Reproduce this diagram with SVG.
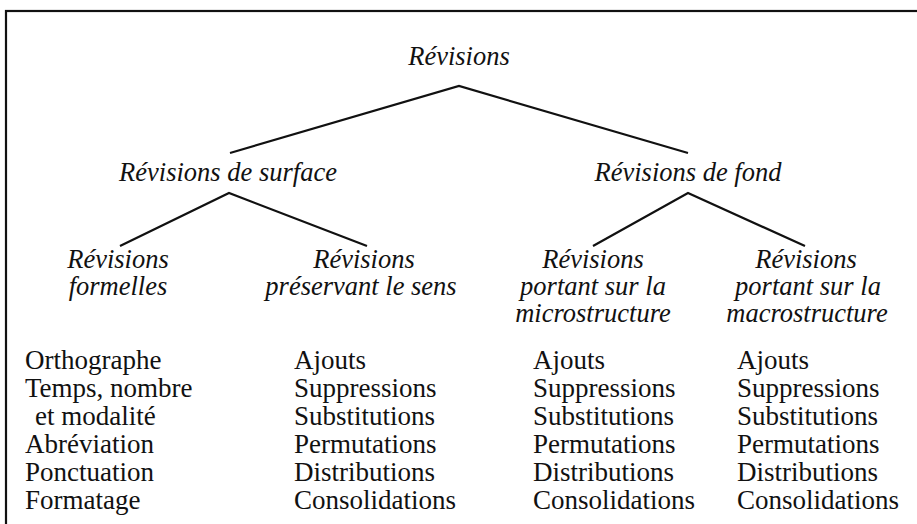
<svg xmlns="http://www.w3.org/2000/svg" width="917" height="524" viewBox="0 0 917 524">
<style>
.t{font-family:'Liberation Serif','Times New Roman','DejaVu Serif',serif;font-size:26.5px;fill:#111}
.l{font-size:27px}
.h{font-style:italic;text-anchor:middle}
.c{stroke:#111;stroke-width:2.2;fill:none}
</style>
<rect x="0" y="0" width="917" height="524" fill="#fff"/>
<rect x="6" y="11" width="930" height="540" fill="none" stroke="#111" stroke-width="2.2"/>
<g id="connectors">
<polyline class="c" points="230,153 459,86 688,153"/>
<polyline class="c" points="120,246 229,193 367,246"/>
<polyline class="c" points="593,246 688,193 805,246"/>
</g>
<g class="t">
<g id="root"><text class="h" x="459" y="65">Révisions</text></g>
<g id="surface"><text class="h" x="228" y="181">Révisions de surface</text></g>
<g id="fond"><text class="h" x="688" y="181">Révisions de fond</text></g>
<g id="formelles"><text class="h" x="118" y="268">Révisions</text><text class="h" x="118" y="295">formelles</text></g>
<g id="preservant"><text class="h" x="364" y="268">Révisions</text><text class="h" x="361" y="295">préservant le sens</text></g>
<g id="micro"><text class="h" x="593" y="268">Révisions</text><text class="h" x="593" y="295">portant sur la</text><text class="h" x="593" y="322">microstructure</text></g>
<g id="macro"><text class="h" x="806" y="268">Révisions</text><text class="h" x="808" y="295">portant sur la</text><text class="h" x="807" y="322">macrostructure</text></g>
<g id="list1" class="l">
<text x="25" y="369">Orthographe</text>
<text x="25" y="397">Temps, nombre</text>
<text x="35" y="425">et modalité</text>
<text x="25" y="453">Abréviation</text>
<text x="25" y="481">Ponctuation</text>
<text x="25" y="509">Formatage</text>
</g>
<g id="list2" class="l">
<text x="294" y="369">Ajouts</text>
<text x="294" y="397">Suppressions</text>
<text x="294" y="425">Substitutions</text>
<text x="294" y="453">Permutations</text>
<text x="294" y="481">Distributions</text>
<text x="294" y="509">Consolidations</text>
</g>
<g id="list3" class="l">
<text x="533" y="369">Ajouts</text>
<text x="533" y="397">Suppressions</text>
<text x="533" y="425">Substitutions</text>
<text x="533" y="453">Permutations</text>
<text x="533" y="481">Distributions</text>
<text x="533" y="509">Consolidations</text>
</g>
<g id="list4" class="l">
<text x="737" y="369">Ajouts</text>
<text x="737" y="397">Suppressions</text>
<text x="737" y="425">Substitutions</text>
<text x="737" y="453">Permutations</text>
<text x="737" y="481">Distributions</text>
<text x="737" y="509">Consolidations</text>
</g>
</g>
</svg>
